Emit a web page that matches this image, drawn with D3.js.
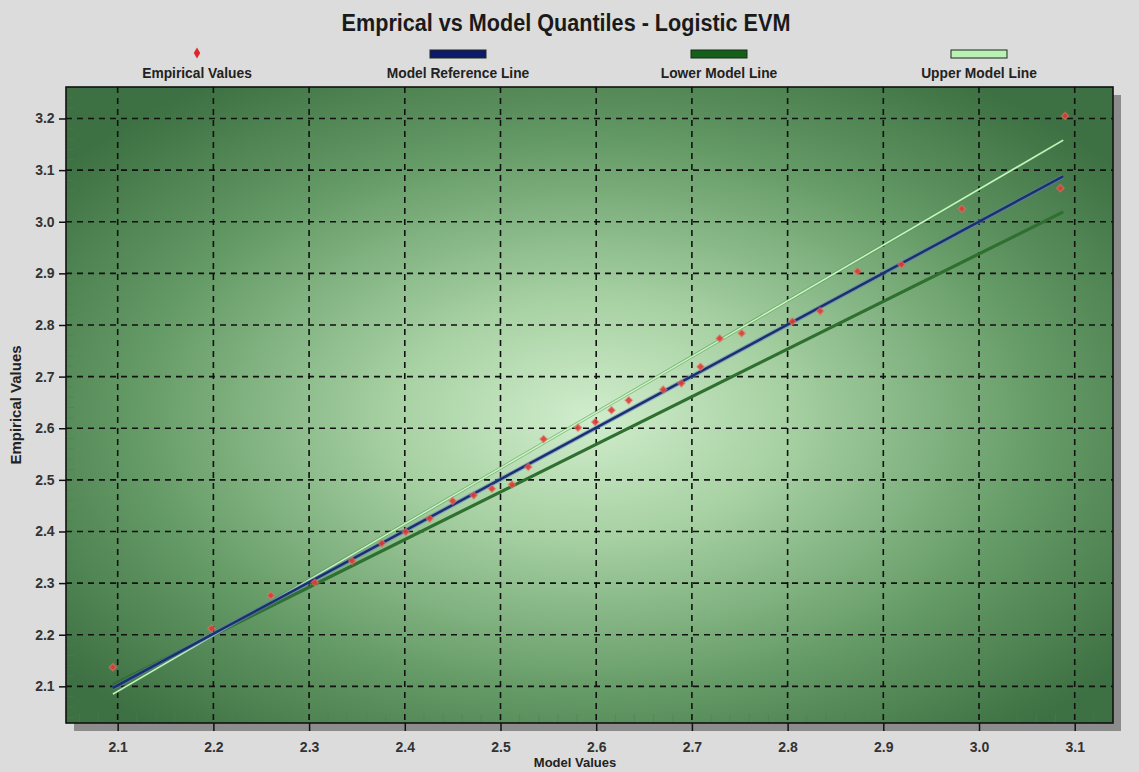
<!DOCTYPE html>
<html>
<head>
<meta charset="utf-8">
<script src="https://cdn.jsdelivr.net/npm/d3@7"></script>
<style>
  html, body { margin: 0; padding: 0; background: #dcdcdc; }
  svg { display: block; font-family: "Liberation Sans", Arial, sans-serif; }
</style>
</head>
<body>
<svg id="chart" width="1139" height="772"></svg>
<script>
// ---- data ----
const modelX = [2.095, 2.198, 2.260, 2.306, 2.345, 2.376, 2.401, 2.426, 2.450, 2.472,
                2.491, 2.512, 2.529, 2.545, 2.581, 2.599, 2.616, 2.634, 2.670, 2.689,
                2.709, 2.729, 2.752, 2.805, 2.834, 2.873, 2.919, 2.982, 3.085, 3.090];
const empiricalY = [2.137, 2.212, 2.276, 2.301, 2.343, 2.377, 2.399, 2.425, 2.459, 2.470,
                    2.483, 2.491, 2.525, 2.579, 2.601, 2.612, 2.635, 2.654, 2.675, 2.687,
                    2.719, 2.774, 2.784, 2.807, 2.827, 2.904, 2.917, 3.025, 3.065, 3.205];
const lineX = [2.095, 3.088];
const referenceY = [2.097, 3.088];
const lowerY = [2.103, 3.019];
const upperY = [2.085, 3.158];
const xTicks = [2.1, 2.2, 2.3, 2.4, 2.5, 2.6, 2.7, 2.8, 2.9, 3.0, 3.1];
const yTicks = [2.1, 2.2, 2.3, 2.4, 2.5, 2.6, 2.7, 2.8, 2.9, 3.0, 3.1, 3.2];
const legendLabels = ["Empirical Values", "Model Reference Line", "Lower Model Line", "Upper Model Line"];
const titleText = "Emprical vs Model Quantiles - Logistic EVM";

// ---- layout ----
const svg = d3.select("#chart");
const L = 66, T = 87, R = 1113, B = 723;
const x = d3.scaleLinear().domain([2.046, 3.140]).range([L, R]);
const y = d3.scaleLinear().domain([2.029, 3.261]).range([B, T]);

const defs = svg.append("defs");
const grad = defs.append("radialGradient").attr("id", "bg")
  .attr("cx", "0.50").attr("cy", "0.52").attr("r", "0.64");
grad.append("stop").attr("offset", "0%").attr("stop-color", "#d0edcc");
grad.append("stop").attr("offset", "30%").attr("stop-color", "#a6d0a2");
grad.append("stop").attr("offset", "68%").attr("stop-color", "#649a66");
grad.append("stop").attr("offset", "100%").attr("stop-color", "#3d7042");

// title
svg.append("text").attr("transform", "translate(566,31) scale(0.9,1)").attr("text-anchor", "middle")
  .attr("font-weight", "bold").attr("font-size", 24).attr("fill", "#1a1a1a")
  .text(titleText);

// legend
const legendX = [197, 458, 719, 979];
const lg = svg.append("g");
lg.selectAll("text.lab").data(legendLabels).join("text")
  .attr("class", "lab")
  .attr("transform", (d, i) => `translate(${legendX[i]},78) scale(0.92,1)`)
  .attr("text-anchor", "middle").attr("font-weight", "bold").attr("font-size", 15)
  .attr("fill", "#222").text(d => d);
lg.append("path").attr("d", d3.symbol(d3.symbolDiamond, 36)())
  .attr("transform", `translate(${legendX[0]},53)`).attr("fill", "#e0262b");
const swatchColors = ["#0d1a6a", "#14601a", "#b9f2b4"];
lg.selectAll("rect.sw").data(swatchColors).join("rect")
  .attr("class", "sw")
  .attr("x", (d, i) => legendX[i + 1] - 28).attr("y", 50)
  .attr("width", 56).attr("height", 8)
  .attr("fill", d => d).attr("stroke", "#1a2a1a").attr("stroke-width", 1);

// shadow + plot background
svg.append("rect").attr("x", L + 8).attr("y", T + 8).attr("width", R - L).attr("height", B - T)
  .attr("fill", "#8c8c8c");
svg.append("rect").attr("x", L).attr("y", T).attr("width", R - L).attr("height", B - T)
  .attr("fill", "url(#bg)");

// minor ticks (faint) along bottom and left edges
const minorX = d3.range(2.06, 3.14, 0.02);
svg.append("g").selectAll("line").data(minorX).join("line")
  .attr("x1", d => x(d)).attr("x2", d => x(d)).attr("y1", B).attr("y2", B - 9)
  .attr("stroke", "#4e7f50").attr("stroke-opacity", 0.5).attr("stroke-width", 1);
const minorY = d3.range(2.04, 3.26, 0.02);
svg.append("g").selectAll("line").data(minorY).join("line")
  .attr("x1", L).attr("x2", L + 8).attr("y1", d => y(d)).attr("y2", d => y(d))
  .attr("stroke", "#4e7f50").attr("stroke-opacity", 0.5).attr("stroke-width", 1);

// grid
const grid = svg.append("g");
grid.selectAll("line.gx").data(xTicks).join("line").attr("class", "gx")
  .attr("x1", d => x(d)).attr("x2", d => x(d)).attr("y1", T).attr("y2", B)
  .attr("stroke", "#111").attr("stroke-width", 1.6).attr("stroke-dasharray", "6,5");
grid.selectAll("line.gy").data(yTicks).join("line").attr("class", "gy")
  .attr("x1", L).attr("x2", R).attr("y1", d => y(d)).attr("y2", d => y(d))
  .attr("stroke", "#111").attr("stroke-width", 1.6).attr("stroke-dasharray", "6,5");

// lines
const pts = ys => lineX.map((v, i) => [x(v), y(ys[i])]);
const line = d3.line();
svg.append("path").attr("d", line(pts(lowerY))).attr("fill", "none")
  .attr("stroke", "#2f6f2f").attr("stroke-width", 3.2);
svg.append("path").attr("d", line(pts(upperY))).attr("fill", "none")
  .attr("stroke", "#4f8a4f").attr("stroke-width", 3).attr("stroke-opacity", 0.6);
svg.append("path").attr("d", line(pts(upperY))).attr("fill", "none")
  .attr("stroke", "#c4f5bd").attr("stroke-width", 1.6);
svg.append("path").attr("d", line(pts(referenceY))).attr("fill", "none")
  .attr("stroke", "#5b7fc0").attr("stroke-width", 4.5).attr("stroke-opacity", 0.55);
svg.append("path").attr("d", line(pts(referenceY))).attr("fill", "none")
  .attr("stroke", "#1c2d70").attr("stroke-width", 2.4);

// points
const data = modelX.map((v, i) => ({ mx: v, ey: empiricalY[i] }));
svg.append("g").selectAll("path").data(data).join("path")
  .attr("d", d3.symbol(d3.symbolSquare, 26)())
  .attr("transform", d => `translate(${x(d.mx)},${y(d.ey)}) rotate(45)`)
  .attr("fill", "#dc3b36").attr("fill-opacity", 0.9)
  .attr("stroke", "#e87a6a").attr("stroke-opacity", 0.5).attr("stroke-width", 1.5);

// frame
svg.append("rect").attr("x", L).attr("y", T).attr("width", R - L).attr("height", B - T)
  .attr("fill", "none").attr("stroke", "#111").attr("stroke-width", 1.6);

// axes
const xAxis = svg.append("g").attr("transform", `translate(0,${B})`)
  .call(d3.axisBottom(x).tickValues(xTicks).tickFormat(d3.format(".1f")).tickSize(8).tickSizeOuter(0));
const yAxis = svg.append("g").attr("transform", `translate(${L},0)`)
  .call(d3.axisLeft(y).tickValues(yTicks).tickFormat(d3.format(".1f")).tickSize(7).tickSizeOuter(0));
[xAxis, yAxis].forEach(a => {
  a.select(".domain").remove();
  a.selectAll(".tick line").attr("stroke", "#111").attr("stroke-width", 1.5);
  a.selectAll(".tick text").attr("font-size", 14).attr("font-weight", "bold")
    .attr("fill", "#333").attr("font-family", "'Liberation Sans', Arial, sans-serif");
});
xAxis.selectAll(".tick text").attr("dy", "1.3em");
yAxis.selectAll(".tick text").attr("dx", "-0.1em");

// axis titles
svg.append("text").attr("x", 575).attr("y", 767).attr("text-anchor", "middle")
  .attr("font-weight", "bold").attr("font-size", 13).attr("fill", "#222").text("Model Values");
svg.append("text").attr("transform", "translate(21,405) rotate(-90)").attr("text-anchor", "middle")
  .attr("font-weight", "bold").attr("font-size", 15).attr("fill", "#222").text("Empirical Values");
</script>
</body>
</html>
